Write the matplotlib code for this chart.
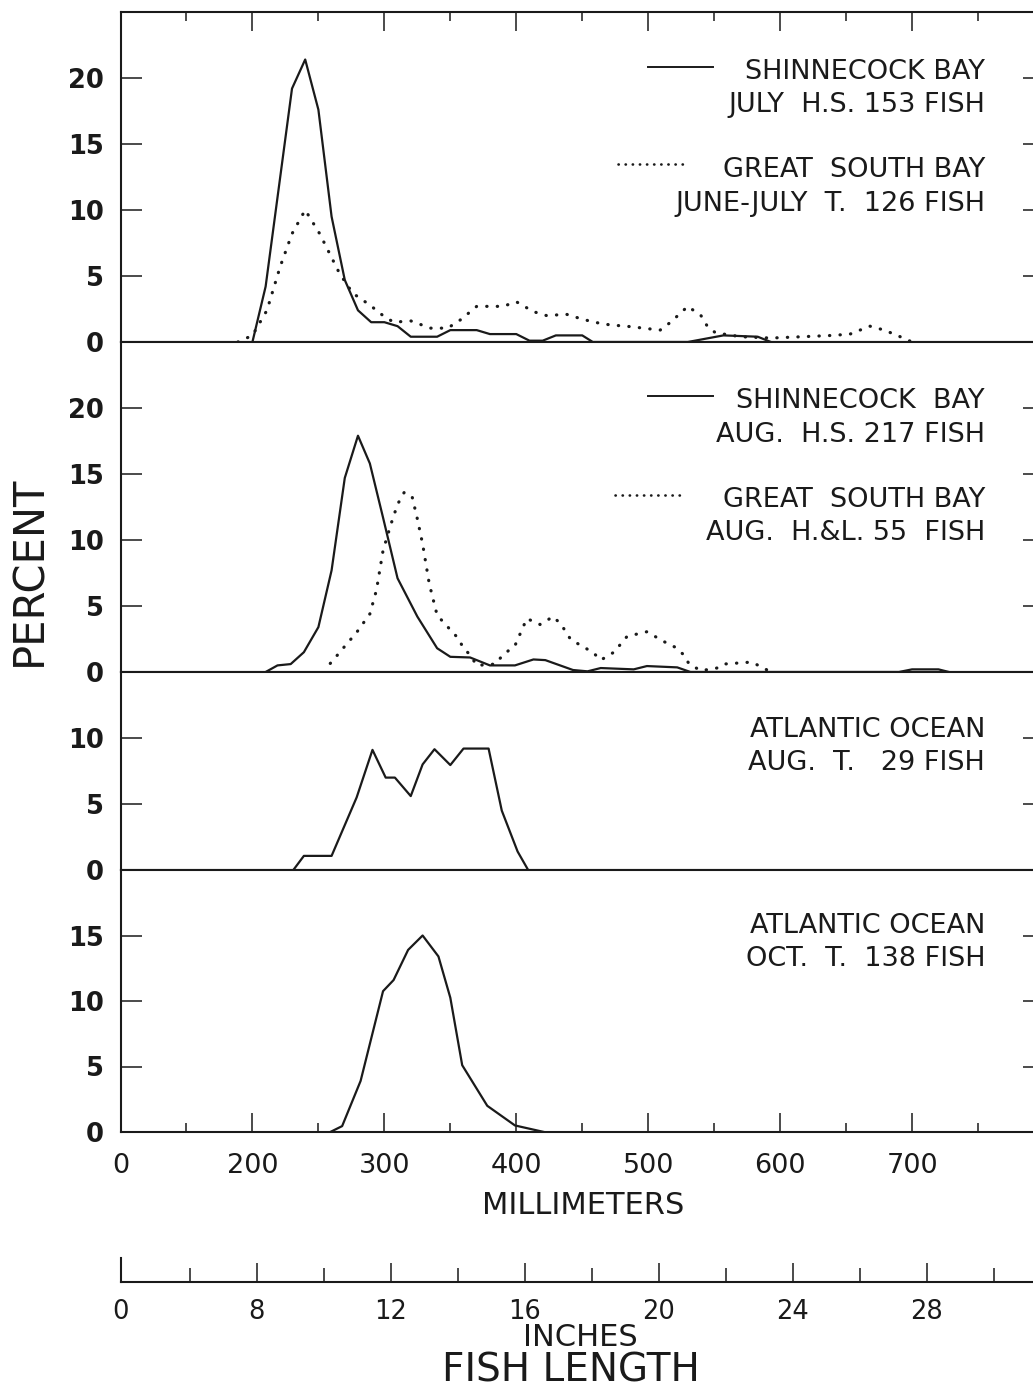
import matplotlib
matplotlib.use('Agg')
import matplotlib.pyplot as plt
from matplotlib.lines import Line2D

plt.rcParams['font.family'] = ['DejaVu Sans']

W, H = 1033, 1388
INK = '#1a1a1a'

# ---- data (length in mm, percent of fish) ----
# panel 1: Shinnecock Bay July H.S. (solid) / Great South Bay June-July T. (dotted)
shin_jul_mm = [200, 210, 230, 240, 250, 260, 270, 280, 290, 300, 310, 320, 340, 350, 370,
               380, 400, 410, 420, 430, 450, 458, 530, 557, 583, 593]
shin_jul_pct = [0, 4.2, 19.2, 21.4, 17.6, 9.5, 4.7, 2.4, 1.5, 1.5, 1.2, 0.4, 0.4, 0.9, 0.9,
                0.6, 0.6, 0.1, 0.1, 0.5, 0.5, 0, 0, 0.5, 0.4, 0]
gsb_jun_mm = [189, 200, 211, 221, 230, 240, 251, 266, 276, 289, 299, 307, 320, 335, 348,
              358, 370, 390, 400, 413, 423, 438, 451, 464, 471, 487, 509, 517, 530, 540,
              545, 551, 570, 593, 640, 653, 668, 679, 691, 700]
gsb_jun_pct = [0, 0.5, 2.4, 5.7, 8.2, 10.0, 8.2, 5.2, 3.7, 2.8, 2.0, 1.5, 1.6, 1.05, 1.05,
               1.7, 2.7, 2.7, 3.05, 2.3, 2.0, 2.1, 1.7, 1.4, 1.3, 1.16, 0.9, 1.5, 2.7, 2.0,
               1.16, 0.7, 0.4, 0.3, 0.5, 0.6, 1.2, 0.9, 0.4, 0]

# panel 2: Shinnecock Bay Aug. H.S. (solid) / Great South Bay Aug. H.&L. (dotted)
shin_aug_mm = [210, 219, 229, 239, 250, 260, 270, 280, 289, 299, 310, 325, 340, 350, 365,
               380, 399, 413, 422, 443, 454, 464, 489, 499, 522, 532, 690, 700, 720, 728]
shin_aug_pct = [0, 0.5, 0.6, 1.5, 3.4, 7.7, 14.7, 17.9, 15.8, 11.7, 7.1, 4.2, 1.8, 1.15, 1.1,
                0.5, 0.5, 0.95, 0.9, 0.15, 0.05, 0.3, 0.2, 0.45, 0.35, 0, 0, 0.2, 0.2, 0]
gsb_aug_mm = [259, 265, 270, 279, 289, 294, 299, 305, 310, 315, 321, 325, 329, 334, 340,
              350, 356, 360, 365, 370, 384, 390, 399, 408, 418, 428, 434, 441, 449, 458,
              464, 474, 484, 499, 512, 520, 527, 531, 540, 552, 557, 578, 588, 592]
gsb_aug_pct = [0.65, 1.35, 1.95, 3.0, 4.4, 6.2, 9.2, 11.2, 12.7, 13.6, 13.3, 11.6, 9.7, 6.7, 4.3,
               3.2, 2.55, 1.8, 1.3, 0.5, 0.6, 1.3, 2.0, 4.05, 3.6, 4.2, 3.6, 2.5, 2.0, 1.5,
               0.9, 1.5, 2.7, 3.05, 2.3, 1.9, 1.3, 0.6, 0.1, 0.3, 0.6, 0.75, 0.3, 0]

# panel 3: Atlantic Ocean Aug. T.
atl_aug_mm = [231, 239, 260, 279, 291, 301, 308, 320, 329, 338, 350, 360, 379, 389, 401, 409]
atl_aug_pct = [0, 1.07, 1.07, 5.5, 9.1, 7.0, 7.0, 5.6, 8.0, 9.15, 7.95, 9.2, 9.2, 4.5, 1.4, 0]

# panel 4: Atlantic Ocean Oct. T.
atl_oct_mm = [259, 268, 282, 299, 307, 318, 329, 341, 350, 359, 378, 399, 421]
atl_oct_pct = [0, 0.45, 3.9, 10.75, 11.6, 13.9, 15.0, 13.4, 10.25, 5.1, 2.0, 0.5, 0]

# axis scales (the "0" sits where 100 mm would be: broken axis)
mm_major = [100, 200, 300, 400, 500, 600, 700]
mm_labels = ['0', '200', '300', '400', '500', '600', '700']
mm_minor = [150, 250, 350, 450, 550, 650, 750]
in_major = [0, 8, 12, 16, 20, 24, 28]
in_minor = [6, 10, 14, 18, 22, 26, 30]

panel_ymax = [25, 25, 15, 20]
panel_yticks = [[0, 5, 10, 15, 20], [0, 5, 10, 15, 20], [0, 5, 10], [0, 5, 10, 15]]

DOTS = (0, (0.1, 3.2))

fig = plt.figure(figsize=(W / 100, H / 100), dpi=100)
fig.patch.set_facecolor('white')


def fx(px):
    return px / W


def fy(py):
    return 1 - py / H


left_px, right_px = 120.5, 1044.0
edges = [12, 342, 672, 870, 1132]

axes = []
for i in range(4):
    top, bot = edges[i], edges[i + 1]
    ax = fig.add_axes([fx(left_px), fy(bot), (right_px - left_px) / W, (bot - top) / H])
    ax.set_xlim(100, 800)
    ax.set_ylim(0, panel_ymax[i])
    for s in ax.spines.values():
        s.set_linewidth(1.5)
        s.set_color(INK)
    ax.set_yticks(panel_yticks[i])
    ax.set_yticklabels([str(t) for t in panel_yticks[i]], fontweight='bold')
    ax.tick_params(axis='y', direction='in', length=15, width=1.1, color=INK,
                   left=True, right=True, labelsize=18.5, pad=12, labelcolor=INK)
    ax.set_xticks(mm_major)
    ax.set_xticks(mm_minor, minor=True)
    if i == 0:
        ax.tick_params(axis='x', which='both', direction='in', top=True, bottom=False,
                       labelbottom=False, width=1.1, color=INK)
        ax.tick_params(axis='x', which='major', length=14)
        ax.tick_params(axis='x', which='minor', length=6.5)
    elif i == 3:
        ax.set_xticklabels(mm_labels)
        ax.tick_params(axis='x', which='both', direction='in', top=False, bottom=True,
                       width=1.1, color=INK, labelsize=19.5, pad=15, labelcolor=INK)
        ax.tick_params(axis='x', which='major', length=14)
        ax.tick_params(axis='x', which='minor', length=6.5)
    else:
        ax.tick_params(axis='x', which='both', top=False, bottom=False, labelbottom=False)
    axes.append(ax)

ax1, ax2, ax3, ax4 = axes
ax1.plot(shin_jul_mm, shin_jul_pct, color=INK, lw=1.6)
ax1.plot(gsb_jun_mm, gsb_jun_pct, color=INK, lw=2.3, ls=DOTS, dash_capstyle='round')
ax2.plot(shin_aug_mm, shin_aug_pct, color=INK, lw=1.6)
ax2.plot(gsb_aug_mm, gsb_aug_pct, color=INK, lw=2.3, ls=DOTS, dash_capstyle='round')
ax3.plot(atl_aug_mm, atl_aug_pct, color=INK, lw=1.6)
ax4.plot(atl_oct_mm, atl_oct_pct, color=INK, lw=1.6)

# inch scale below
ax_in = fig.add_axes([fx(left_px), fy(1282), (right_px - left_px) / W, 24 / H])
ax_in.set_xlim(100, 800)
ax_in.set_ylim(0, 1)
ax_in.patch.set_alpha(0)
for side in ['top', 'right']:
    ax_in.spines[side].set_visible(False)
for side in ['left', 'bottom']:
    ax_in.spines[side].set_linewidth(1.5)
    ax_in.spines[side].set_color(INK)
ax_in.set_yticks([])
in_pos = [100 if v == 0 else v * 25.4 for v in in_major]
ax_in.set_xticks(in_pos)
ax_in.set_xticklabels([str(v) for v in in_major])
ax_in.set_xticks([v * 25.4 for v in in_minor], minor=True)
ax_in.tick_params(axis='x', which='both', direction='in', width=1.1, color=INK,
                  labelsize=18.5, pad=12, labelcolor=INK)
ax_in.tick_params(axis='x', which='major', length=14)
ax_in.tick_params(axis='x', which='minor', length=10)

# axis titles
fig.text(fx(29), fy(571), 'PERCENT', rotation=90, ha='center', va='center',
         fontsize=30, color=INK)
fig.text(fx(583), fy(1205), 'MILLIMETERS', ha='center', va='center', fontsize=22, color=INK)
fig.text(fx(580), fy(1337), 'INCHES', ha='center', va='center', fontsize=22, color=INK)
fig.text(fx(571), fy(1370), 'FISH LENGTH', ha='center', va='center', fontsize=28, color=INK)

# panel keys
tx = fx(985)
keys = [
    (79, 'SHINNECOCK BAY'), (112, 'JULY  H.S. 153 FISH'),
    (177, 'GREAT  SOUTH BAY'), (211, 'JUNE-JULY  T.  126 FISH'),
    (408, 'SHINNECOCK  BAY'), (442, 'AUG.  H.S. 217 FISH'),
    (507, 'GREAT  SOUTH BAY'), (540, 'AUG.  H.&L. 55  FISH'),
    (737, 'ATLANTIC OCEAN'), (770, 'AUG.  T.   29 FISH'),
    (933, 'ATLANTIC OCEAN'), (966, 'OCT.  T.  138 FISH'),
]
for yb, s in keys:
    fig.text(tx, fy(yb), s, ha='right', va='baseline', fontsize=19.5, color=INK)

fig.add_artist(Line2D([fx(648), fx(713)], [fy(67), fy(67)], color=INK, lw=1.4))
fig.add_artist(Line2D([fx(618), fx(687)], [fy(164), fy(164)], color=INK, lw=1.9,
                      ls=(0, (0.1, 2.6)), dash_capstyle='round'))
fig.add_artist(Line2D([fx(648), fx(713)], [fy(396), fy(396)], color=INK, lw=1.4))
fig.add_artist(Line2D([fx(615), fx(680)], [fy(495), fy(495)], color=INK, lw=1.9,
                      ls=(0, (0.1, 2.6)), dash_capstyle='round'))

fig.savefig('out.png', dpi=100, facecolor='white')
